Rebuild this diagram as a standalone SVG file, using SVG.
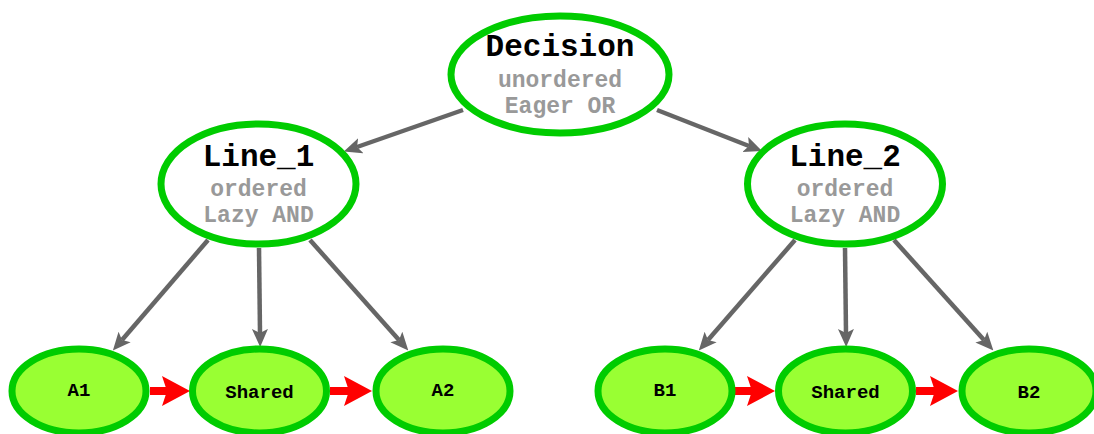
<svg xmlns="http://www.w3.org/2000/svg" width="1094" height="434" viewBox="0 0 1094 434">
  <style>
    .big { fill: #ffffff; stroke: #00cc00; stroke-width: 7; }
    .leaf { fill: #99ff33; stroke: #00cc00; stroke-width: 7; }
    .title { font-family: "Liberation Mono", "Courier New", monospace; font-weight: bold; font-size: 31px; fill: #000000; text-anchor: middle; }
    .sub { font-family: "Liberation Mono", "Courier New", monospace; font-weight: bold; font-size: 23px; fill: #999999; text-anchor: middle; }
    .lbl { font-family: "Liberation Mono", "Courier New", monospace; font-weight: bold; font-size: 19px; fill: #000000; text-anchor: middle; }
    .tree { stroke: #666666; stroke-width: 4.5; fill: none; marker-end: url(#grayHead); }
    .seq { stroke: #ff0000; stroke-width: 8; fill: none; marker-end: url(#redHead); }
  </style>
  <defs>
    <marker id="grayHead" markerUnits="userSpaceOnUse" viewBox="0 0 18 18" refX="4" refY="9" markerWidth="18" markerHeight="18" orient="auto">
      <path d="M0,1 L18,9 L0,17 L4,9 z" fill="#666666"/>
    </marker>
    <marker id="redHead" markerUnits="userSpaceOnUse" viewBox="0 0 28 30" refX="5" refY="15" markerWidth="28" markerHeight="30" orient="auto">
      <path d="M0,0 L28,15 L0,30 L5,15 z" fill="#ff0000"/>
    </marker>
  </defs>

  <!-- connectors: grey tree edges, red sequence arrows -->
  <g id="edges">
    <line class="tree" x1="463" y1="110" x2="357" y2="147"/>
    <line class="tree" x1="657" y1="110" x2="749" y2="146"/>
    <line class="tree" x1="208" y1="240" x2="122" y2="340"/>
    <line class="tree" x1="259" y1="248" x2="260" y2="333"/>
    <line class="tree" x1="310" y1="240" x2="399" y2="340"/>
    <line class="tree" x1="795" y1="240" x2="708" y2="340"/>
    <line class="tree" x1="845" y1="248" x2="846" y2="333"/>
    <line class="tree" x1="894" y1="240" x2="984" y2="340"/>
    <line class="seq" x1="150" y1="391" x2="167" y2="391"/>
    <line class="seq" x1="330" y1="391" x2="349" y2="391"/>
    <line class="seq" x1="735" y1="391" x2="752" y2="391"/>
    <line class="seq" x1="916" y1="391" x2="935" y2="391"/>
  </g>

  <g id="decision">
    <ellipse class="big" cx="560" cy="74.5" rx="109" ry="58.5"/>
    <text class="title" x="560" y="56">Decision</text>
    <text class="sub" x="560" y="87">unordered</text>
    <text class="sub" x="560" y="113">Eager OR</text>
  </g>

  <g id="line_1">
    <ellipse class="big" cx="258.5" cy="184" rx="97.5" ry="60"/>
    <text class="title" x="258.5" y="166">Line_1</text>
    <text class="sub" x="258.5" y="196">ordered</text>
    <text class="sub" x="258.5" y="222">Lazy AND</text>
  </g>

  <g id="line_2">
    <ellipse class="big" cx="845" cy="184" rx="97.5" ry="60"/>
    <text class="title" x="845" y="166">Line_2</text>
    <text class="sub" x="845" y="196">ordered</text>
    <text class="sub" x="845" y="222">Lazy AND</text>
  </g>

  <g id="a1">
    <ellipse class="leaf" cx="79" cy="391" rx="67" ry="42"/>
    <text class="lbl" x="79" y="396">A1</text>
  </g>
  <g id="shared_a">
    <ellipse class="leaf" cx="259.5" cy="391" rx="67" ry="42"/>
    <text class="lbl" x="259.5" y="398">Shared</text>
  </g>
  <g id="a2">
    <ellipse class="leaf" cx="443" cy="391" rx="67" ry="42"/>
    <text class="lbl" x="443" y="396">A2</text>
  </g>
  <g id="b1">
    <ellipse class="leaf" cx="665" cy="391" rx="67" ry="42"/>
    <text class="lbl" x="665" y="396">B1</text>
  </g>
  <g id="shared_b">
    <ellipse class="leaf" cx="845.5" cy="391" rx="67" ry="42"/>
    <text class="lbl" x="845.5" y="398">Shared</text>
  </g>
  <g id="b2">
    <ellipse class="leaf" cx="1029" cy="391" rx="67" ry="42"/>
    <text class="lbl" x="1029" y="398">B2</text>
  </g>
</svg>
